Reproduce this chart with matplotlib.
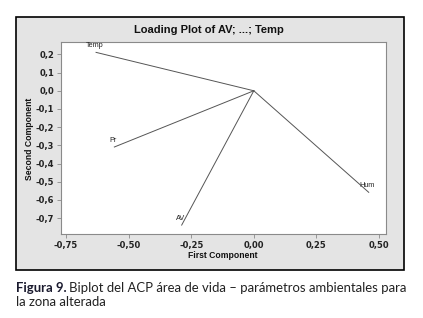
import matplotlib
matplotlib.use("Agg")
import matplotlib.pyplot as plt
from matplotlib.patches import Rectangle

variables = ["Temp", "Pr", "AV", "Hum"]
pc1 = [-0.63, -0.557, -0.288, 0.459]
pc2 = [0.211, -0.309, -0.738, -0.558]
xticks = [-0.75, -0.50, -0.25, 0.00, 0.25, 0.50]
xtick_labels = ["-0,75", "-0,50", "-0,25", "0,00", "0,25", "0,50"]
yticks = [0.2, 0.1, 0.0, -0.1, -0.2, -0.3, -0.4, -0.5, -0.6, -0.7]
ytick_labels = ["0,2", "0,1", "0,0", "-0,1", "-0,2", "-0,3", "-0,4", "-0,5", "-0,6", "-0,7"]

W, H = 423, 318
fig = plt.figure(figsize=(W / 100, H / 100), dpi=100)
fig.patch.set_facecolor("white")

def fx(px):
    return px / W

def fy(py):
    return 1 - py / H

# outer grey panel
fig.patches.append(Rectangle((fx(16), fy(270)), (404 - 16) / W, (270 - 17) / H,
                             transform=fig.transFigure, facecolor="#e4e4e4",
                             edgecolor="black", linewidth=1.2, zorder=-10))

ax = fig.add_axes([fx(61), fy(234), (386 - 61) / W, (234 - 42) / H])
ax.set_zorder(5)
ax.set_facecolor("white")
for s in ax.spines.values():
    s.set_color("#8a8a8a")
    s.set_linewidth(0.8)

for x, y, name in zip(pc1, pc2, variables):
    ax.plot([0, x], [0, y], color="#555555", linewidth=0.7)

for x, y, name in zip(pc1, pc2, variables):
    ax.text(x - 0.006, y + 0.036, name, fontsize=5.2, color="#222222",
            family="Liberation Sans", ha="center", va="center")

ax.set_xlim(-0.77, 0.528)
ax.set_ylim(-0.787, 0.268)
ax.set_xticks(xticks)
ax.set_xticklabels(xtick_labels)
ax.set_yticks(yticks)
ax.set_yticklabels(ytick_labels)
ax.tick_params(axis="both", length=3, width=0.6, color="#8a8a8a", labelsize=6, pad=2)
for lab in ax.get_xticklabels() + ax.get_yticklabels():
    lab.set_fontweight("bold")
    lab.set_color("#222222")

fig.text(fx(209), fy(30), "Loading Plot of AV; ...; Temp", fontsize=8, fontweight="bold",
         family="Liberation Sans", ha="center", va="center", color="#111111")
fig.text(fx(223), fy(256), "First Component", fontsize=6.2, fontweight="bold",
         family="Liberation Sans", ha="center", va="center", color="#111111")
fig.text(fx(29), fy(139), "Second Component", fontsize=6.2, fontweight="bold", rotation=90,
         family="Liberation Sans", ha="center", va="center", color="#111111")

# caption
t1 = fig.text(fx(16), fy(288), "Figura 9.", fontsize=9.45, fontweight="bold",
              family="Lato", ha="left", va="center", color="#1a1a2e")
fig.canvas.draw()
bb = t1.get_window_extent(renderer=fig.canvas.get_renderer())
x_end = bb.x1 / (fig.dpi * fig.get_figwidth())
fig.text(x_end + 2 / W, fy(288), "Biplot del ACP área de vida – parámetros ambientales para",
         fontsize=9.45, family="Lato", ha="left", va="center", color="#222222")
fig.text(fx(16), fy(302), "la zona alterada", fontsize=9.45, family="Lato",
         ha="left", va="center", color="#222222")

fig.savefig("out.png", dpi=100)
